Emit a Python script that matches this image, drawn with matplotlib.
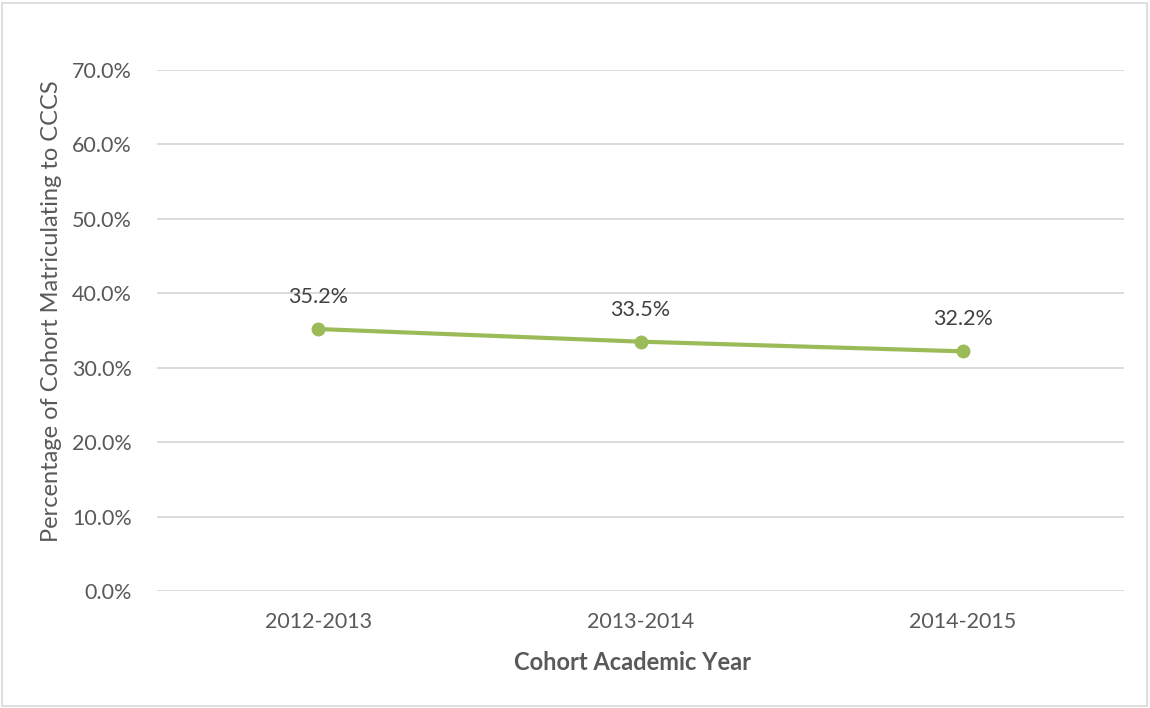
import matplotlib
matplotlib.use("Agg")
import matplotlib.pyplot as plt
from matplotlib.patches import Rectangle

categories = ["2012-2013", "2013-2014", "2014-2015"]
values = [35.2, 33.5, 32.2]
yticks = [0, 10, 20, 30, 40, 50, 60, 70]

plt.rcParams['font.family'] = ['Lato', 'DejaVu Sans']
W, H = 1150, 708
fig = plt.figure(figsize=(W/100, H/100), dpi=100)
ax = fig.add_axes([157/W, 1-591/H, (1124-157)/W, (591-70)/H])

txt = '#595959'
x = list(range(len(categories)))
ax.plot(x, values, color='#9BBB59', lw=3.0, marker='o', ms=9, solid_capstyle='round', zorder=3)
for xi, v in zip(x, values):
    ax.annotate(f"{v:.1f}%", (xi, v), xytext=(0, 23), textcoords='offset points',
                ha='center', va='center', fontsize=15.5, color='#404040')

ax.set_xlim(-0.5, len(categories)-0.5)
ax.set_ylim(0, 70)
ax.set_yticks(yticks)
ax.set_yticklabels([f"{t:.1f}%" for t in yticks])
ax.set_xticks(x)
ax.set_xticklabels(categories)
ax.tick_params(length=0, labelsize=15.5, colors=txt)
ax.tick_params(axis='y', pad=18)
ax.tick_params(axis='x', pad=15)
ax.grid(axis='y', color='#D9D9D9', lw=1.3)
ax.set_axisbelow(True)
for s in ax.spines.values():
    s.set_visible(False)

fig.text(633/W, 1-663/H, "Cohort Academic Year", ha='center', va='center',
         fontsize=17, fontweight='bold', color=txt)
fig.text(52/W, 1-311/H, "Percentage of Cohort Matriculating to CCCS", ha='center', va='center',
         rotation=90, fontsize=17, color=txt)

fig.patches.append(Rectangle((2/W, 2/H), (W-5)/W, (H-5)/H, transform=fig.transFigure,
                             fill=False, edgecolor='#D9D9D9', lw=1.2))
fig.savefig("out.png", dpi=100, facecolor='white')
